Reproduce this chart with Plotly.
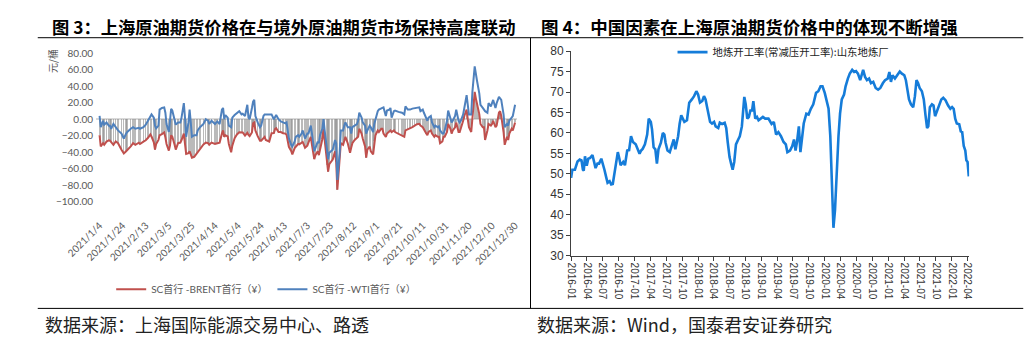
import pandas as pd
import plotly.graph_objects as go

# ---------------- Figure 3 data (daily, 2021) ----------------
dates_2021 = [
    "2021-01-04", "2021-01-05", "2021-01-07", "2021-01-08", "2021-01-10", "2021-01-12", "2021-01-13", "2021-01-14", "2021-01-16", "2021-01-18",
    "2021-01-20", "2021-01-23", "2021-01-25", "2021-01-27", "2021-01-28", "2021-01-31", "2021-02-02", "2021-02-04", "2021-02-07", "2021-02-08",
    "2021-02-11", "2021-02-13", "2021-02-15", "2021-02-17", "2021-02-18", "2021-02-20", "2021-02-21", "2021-02-22", "2021-02-24", "2021-02-25",
    "2021-02-27", "2021-03-01", "2021-03-02", "2021-03-03", "2021-03-05", "2021-03-06", "2021-03-07", "2021-03-08", "2021-03-10", "2021-03-11",
    "2021-03-13", "2021-03-15", "2021-03-16", "2021-03-18", "2021-03-19", "2021-03-20", "2021-03-22", "2021-03-23", "2021-03-24", "2021-03-25",
    "2021-03-27", "2021-03-29", "2021-03-30", "2021-04-01", "2021-04-04", "2021-04-06", "2021-04-08", "2021-04-09", "2021-04-11", "2021-04-14",
    "2021-04-16", "2021-04-18", "2021-04-20", "2021-04-21", "2021-04-22", "2021-04-23", "2021-04-25", "2021-04-26", "2021-04-28", "2021-04-29",
    "2021-05-01", "2021-05-03", "2021-05-05", "2021-05-07", "2021-05-08", "2021-05-10", "2021-05-12", "2021-05-13", "2021-05-14", "2021-05-16",
    "2021-05-17", "2021-05-18", "2021-05-19", "2021-05-21", "2021-05-23", "2021-05-24", "2021-05-26", "2021-05-27", "2021-05-28", "2021-05-31",
    "2021-06-02", "2021-06-04", "2021-06-05", "2021-06-06", "2021-06-08", "2021-06-10", "2021-06-12", "2021-06-14", "2021-06-15", "2021-06-16",
    "2021-06-17", "2021-06-19", "2021-06-20", "2021-06-22", "2021-06-23", "2021-06-25", "2021-06-26", "2021-06-28", "2021-06-29", "2021-07-01",
    "2021-07-03", "2021-07-04", "2021-07-06", "2021-07-07", "2021-07-09", "2021-07-10", "2021-07-12", "2021-07-13", "2021-07-14", "2021-07-16",
    "2021-07-17", "2021-07-18", "2021-07-20", "2021-07-21", "2021-07-22", "2021-07-24", "2021-07-25", "2021-07-27", "2021-07-28", "2021-07-29",
    "2021-07-31", "2021-08-01", "2021-08-03", "2021-08-04", "2021-08-05", "2021-08-07", "2021-08-09", "2021-08-10", "2021-08-11", "2021-08-13",
    "2021-08-15", "2021-08-16", "2021-08-17", "2021-08-19", "2021-08-20", "2021-08-22", "2021-08-23", "2021-08-24", "2021-08-26", "2021-08-27",
    "2021-08-29", "2021-08-30", "2021-08-31", "2021-09-02", "2021-09-03", "2021-09-05", "2021-09-06", "2021-09-07", "2021-09-09", "2021-09-10",
    "2021-09-12", "2021-09-13", "2021-09-14", "2021-09-16", "2021-09-17", "2021-09-20", "2021-09-23", "2021-09-25", "2021-09-26", "2021-09-28",
    "2021-09-30", "2021-10-02", "2021-10-04", "2021-10-06", "2021-10-08", "2021-10-09", "2021-10-11", "2021-10-12", "2021-10-14", "2021-10-15",
    "2021-10-16", "2021-10-18", "2021-10-19", "2021-10-21", "2021-10-22", "2021-10-24", "2021-10-25", "2021-10-26", "2021-10-28", "2021-10-29",
    "2021-10-30", "2021-11-01", "2021-11-02", "2021-11-04", "2021-11-05", "2021-11-06", "2021-11-08", "2021-11-09", "2021-11-11", "2021-11-12",
    "2021-11-13", "2021-11-15", "2021-11-16", "2021-11-18", "2021-11-19", "2021-11-20", "2021-11-22", "2021-11-23", "2021-11-25", "2021-11-26",
    "2021-11-27", "2021-11-29", "2021-11-30", "2021-12-02", "2021-12-03", "2021-12-04", "2021-12-06", "2021-12-07", "2021-12-09", "2021-12-10",
    "2021-12-11", "2021-12-13", "2021-12-14", "2021-12-16", "2021-12-17", "2021-12-18", "2021-12-20", "2021-12-21", "2021-12-23", "2021-12-24",
    "2021-12-25", "2021-12-27", "2021-12-28", "2021-12-30",
]

sc_brent = [
    -19.4, -33, -29, -31, -27.1, -25.5, -26, -28, -31, -27,
    -29, -37, -41.5, -38.8, -37.5, -33, -29, -31, -28.5, -30,
    -27.1, -25.5, -22.5, -18.5, -21, -28, -36.8, -30, -25, -19.4,
    -18, -16, -22, -30, -38, -32, -19.4, -21.3, -31, -36.8,
    -29, -28.3, -25.2, -17.4, -30, -42, -41, -38.8, -42.6, -46.5,
    -45.5, -42, -39, -35.5, -30.5, -28.3, -29, -31, -28.3, -29.8,
    -29, -28.3, -17.5, -13.6, -21.3, -19.4, -20.8, -30, -40, -32,
    -23, -18.5, -15.8, -16.5, -16, -19.8, -16.5, -19, -20.5, -16,
    -5, -4, -13.6, -20.5, -26, -26, -22, -21.3, -25.2, -27,
    -17, -16.7, -12, -11, -15.5, -15.5, -17, -17.4, -19, -29,
    -33.5, -38.5, -42.6, -34.9, -33, -30, -30.5, -28, -27.5, -34.5,
    -32, -28, -21.3, -31, -48.4, -43.5, -38.8, -43.5, -37, -24,
    -12, -25, -55, -63.5, -54.5, -50.8, -48.8, -38.8, -52.3, -85.3,
    -52.3, -29, -31, -25.2, -21.3, -29, -40.7, -34.5, -29, -25.2,
    -23.3, -21.3, -11.6, -17.4, -23.3, -33, -46.5, -36.8, -33, -38.8,
    -42.6, -27, -19.4, -13.6, -15.5, -11.6, -11.6, -17.4, -21.3, -17.4,
    -15.5, -13.6, -15.5, -13.6, -15.5, -17.4, -19.4, -21.3, -13.6, -12.5,
    -11, -9.5, -7.8, -6, -5.5, -7.8, -9.7, -12.8, -17.4, -19.4,
    -15.5, -13.6, -17.4, -21.3, -19.4, -21.3, -21.3, -29, -27, -21.3,
    -21.3, -15.5, -5.8, -11.6, -17.4, -13.6, -9.7, -3.9, -15.5, -15.5,
    -9.7, -1.9, 3.9, 11.6, 0, -9.7, -15.5, 1.9, 33, 25.2,
    19.4, 5.8, -5.8, -9.7, -9.7, -25.2, -13.6, -5.8, -7.8, -5.8,
    -1.9, -9.7, -7.8, 7.8, 9.7, 3.9, -15.5, -31, -21.3, -25.2,
    -17.4, -11.6, -13.6, -3.9,
]

sc_wti = [
    3.9, -9.7, -2, -6.6, -3.9, -7.8, -7.8, -11.6, -5.8, -9.7,
    -13.6, -17.4, -23.3, -17.4, -15.5, -11.6, -9.7, -11.6, -10.5, -11.6,
    -9.7, -6.6, -1.9, 3.9, 5.8, 1.9, -7.8, -11, -7.8, 11.6,
    13.6, 14.3, 7.8, -5.8, -15.5, -1.9, 12.4, 10.5, 0, -6.6,
    -3.9, -3.9, 1.9, 19.4, 1.9, -21.3, -3.9, 11.6, -3.9, -21.3,
    -19.4, -19.4, -13.6, -9.7, -5.8, 0, -1.9, -5.8, -1.9, -5.8,
    -2.7, -5.8, 11.6, 13.6, 0, 5, 1.9, -7.8, -9.7, 1.9,
    5, 7.8, 9.7, 5.8, 6.6, 3.9, 17.4, 1.9, 0, 13.6,
    21.3, 23.3, 3.9, -3.9, -9.7, -7.8, 3.9, 5.8, 5.8, 5.8,
    5.8, 0, 1.9, 5, 0, -2.7, -3.9, -5, -3.9, -17.4,
    -23.3, -31, -33, -27, -21.3, -19.4, -21.3, -17.4, -13.6, -23.3,
    -17.4, -17.4, -7.8, -17.4, -38.8, -35, -27.1, -29, -19.4, -11.6,
    0, -13.6, -33, -48.4, -40.7, -38.8, -36.8, -25.2, -29, -73.6,
    -40.7, -13.6, -13.6, -7.8, -3.9, -9.7, -9.7, -17.4, -9.7, -7.8,
    -5.8, -1.9, 7.8, 1.9, -3.9, -7.8, -17.4, -13.6, -7.8, -9.7,
    -15.5, -5.8, 0, 9.7, 11.6, 13.6, 13.6, 14.3, 3.9, 10.5,
    11.6, 13.6, 1.9, 9.7, 10.5, 8.9, 7.8, 5.8, 15.5, 11.6,
    11.6, 12.8, 13.6, 13.6, 14.3, 9.7, 11.6, 7.8, 1.9, -1.9,
    1.9, 3.9, -3.9, -9.7, -7.8, -9.7, -8.5, -13.6, -17.4, -17.4,
    -13.6, -1.9, 10.5, 1.9, -3.9, -1.9, 3.9, 11.6, -1.9, -3.9,
    -1.9, 5.8, 13.6, 29, 17.4, 5.8, 5.8, 33, 64, 54,
    46.5, 31, 17.4, 13.6, 11.6, 9.7, 7.8, 19.4, 15.5, 19.4,
    23.3, 13.6, 19.4, 27.1, 25.2, 23.3, 5.8, -9.7, -5.8, -7.8,
    -1.9, 1.9, 3.9, 17.4,
]

fig3_tick_labels = [
    "2021/1/4", "2021/1/24", "2021/2/13", "2021/3/5", "2021/3/25", "2021/4/14", "2021/5/4",
    "2021/5/24", "2021/6/13", "2021/7/3", "2021/7/23", "2021/8/12", "2021/9/1", "2021/9/21",
    "2021/10/11", "2021/10/31", "2021/11/20", "2021/12/10", "2021/12/30",
]
fig3_y_ticks = [-100, -80, -60, -40, -20, 0, 20, 40, 60, 80]

# ---------------- Figure 4 data (weekly, 2016-2022) ----------------
weeks = [
    "2016-01-01", "2016-01-08", "2016-01-23", "2016-02-07", "2016-02-20", "2016-03-01", "2016-03-09", "2016-03-14", "2016-03-21", "2016-03-31",
    "2016-04-09", "2016-04-20", "2016-05-03", "2016-05-12", "2016-05-21", "2016-06-01", "2016-06-10", "2016-06-23", "2016-07-02", "2016-07-11",
    "2016-07-22", "2016-07-29", "2016-08-10", "2016-08-19", "2016-08-28", "2016-09-11", "2016-09-26", "2016-10-05", "2016-10-12", "2016-10-27",
    "2016-11-06", "2016-11-19", "2016-11-30", "2016-12-11", "2016-12-22", "2017-01-07", "2017-01-19", "2017-01-29", "2017-02-07", "2017-02-16",
    "2017-03-01", "2017-03-14", "2017-03-23", "2017-04-04", "2017-04-11", "2017-04-20", "2017-04-30", "2017-05-09", "2017-05-18", "2017-06-01",
    "2017-06-12", "2017-06-21", "2017-06-28", "2017-07-09", "2017-07-22", "2017-08-01", "2017-08-14", "2017-08-23", "2017-09-08", "2017-09-17",
    "2017-09-26", "2017-10-05", "2017-10-14", "2017-10-29", "2017-11-11", "2017-11-26", "2017-12-09", "2017-12-22", "2018-01-01", "2018-01-12",
    "2018-01-25", "2018-02-04", "2018-02-13", "2018-02-22", "2018-03-02", "2018-03-11", "2018-03-22", "2018-04-03", "2018-04-12", "2018-04-27",
    "2018-05-06", "2018-05-19", "2018-06-03", "2018-06-12", "2018-06-21", "2018-07-01", "2018-07-10", "2018-07-19", "2018-07-28", "2018-08-07",
    "2018-08-20", "2018-08-29", "2018-09-10", "2018-09-17", "2018-09-24", "2018-10-02", "2018-10-11", "2018-10-20", "2018-10-29", "2018-11-08",
    "2018-11-15", "2018-11-26", "2018-12-06", "2018-12-15", "2018-12-28", "2019-01-09", "2019-01-22", "2019-02-10", "2019-02-28", "2019-03-13",
    "2019-03-26", "2019-04-08", "2019-04-23", "2019-05-08", "2019-05-21", "2019-05-30", "2019-06-14", "2019-06-27", "2019-07-07", "2019-07-16",
    "2019-07-25", "2019-08-04", "2019-08-13", "2019-08-22", "2019-09-01", "2019-09-16", "2019-09-29", "2019-10-12", "2019-10-26", "2019-11-11",
    "2019-11-24", "2019-12-07", "2019-12-18", "2019-12-31", "2020-01-13", "2020-01-22", "2020-02-01", "2020-02-10", "2020-02-19", "2020-02-28",
    "2020-03-08", "2020-03-19", "2020-03-28", "2020-04-07", "2020-04-20", "2020-04-29", "2020-05-12", "2020-05-23", "2020-06-06", "2020-06-17",
    "2020-06-28", "2020-07-09", "2020-07-22", "2020-08-01", "2020-08-08", "2020-08-19", "2020-08-30", "2020-09-11", "2020-09-22", "2020-10-05",
    "2020-10-19", "2020-11-02", "2020-11-15", "2020-11-30", "2020-12-12", "2020-12-27", "2021-01-06", "2021-01-15", "2021-01-24", "2021-02-07",
    "2021-02-18", "2021-03-07", "2021-03-19", "2021-04-02", "2021-04-11", "2021-04-20", "2021-04-29", "2021-05-10", "2021-05-23", "2021-06-02",
    "2021-06-11", "2021-06-20", "2021-06-29", "2021-07-12", "2021-07-23", "2021-08-02", "2021-08-11", "2021-08-18", "2021-08-27", "2021-09-08",
    "2021-09-17", "2021-09-26", "2021-10-06", "2021-10-19", "2021-11-01", "2021-11-12", "2021-11-25", "2021-12-10", "2021-12-23", "2022-01-02",
    "2022-01-11", "2022-01-20", "2022-01-29", "2022-02-12", "2022-02-21", "2022-03-01", "2022-03-10", "2022-03-19", "2022-03-25", "2022-04-01",
    "2022-04-08",
]

shandong_rate = [
    49.0, 51.0, 51.0, 53.0, 53.5, 53.3, 51.0, 50.8, 54.3, 52.0,
    53.7, 53.9, 54.6, 53.0, 51.4, 52.5, 52.5, 53.7, 52.5, 51.0,
    49.0, 47.8, 48.2, 47.4, 47.5, 51.4, 55.3, 53.7, 52.1, 52.9,
    52.1, 55.7, 55.8, 59.2, 57.8, 57.2, 55.7, 54.9, 55.7, 56.1,
    57.2, 59.6, 63.5, 62.7, 60.8, 56.5, 56.0, 52.5, 56.0, 57.6,
    60.0, 59.6, 57.6, 55.7, 55.3, 56.8, 58.4, 56.0, 59.2, 62.3,
    64.3, 63.5, 62.7, 63.1, 67.4, 68.2, 69.0, 70.2, 69.4, 67.4,
    67.8, 69.0, 68.2, 66.3, 64.3, 62.7, 62.3, 62.7, 61.6, 61.2,
    62.5, 62.2, 62.5, 61.2, 57.6, 54.1, 52.5, 51.0, 52.9, 57.2,
    58.4, 59.2, 61.6, 65.9, 68.8, 67.0, 63.5, 63.9, 65.5, 65.5,
    67.8, 63.5, 63.9, 63.1, 63.5, 63.9, 63.5, 63.5, 62.2, 62.7,
    59.6, 60.2, 59.2, 57.8, 57.2, 55.3, 55.7, 56.8, 58.4, 55.7,
    58.0, 61.6, 55.3, 59.2, 62.3, 64.7, 64.5, 65.9, 67.0, 69.8,
    70.2, 71.4, 71.4, 69.8, 67.4, 65.9, 59.2, 47.4, 36.8, 41.1,
    49.8, 59.2, 64.7, 68.2, 69.4, 71.4, 73.3, 74.5, 75.4, 74.9,
    75.1, 74.5, 72.9, 74.5, 75.4, 73.7, 72.9, 73.3, 72.2, 72.5,
    71.0, 70.6, 71.0, 72.2, 72.9, 73.3, 74.9, 72.5, 74.1, 73.3,
    74.1, 75.0, 74.5, 74.1, 72.9, 70.2, 68.2, 67.0, 66.3, 69.0,
    72.9, 72.2, 71.0, 70.2, 68.2, 64.3, 61.2, 61.6, 66.3, 67.0,
    66.7, 64.1, 65.2, 66.3, 68.2, 68.6, 68.0, 66.7, 65.9, 66.3,
    65.9, 63.5, 62.3, 62.1, 60.4, 60.2, 56.8, 55.7, 53.3, 52.9,
    49.4,
]

fig4_tick_labels = [
    "2016-01", "2016-04", "2016-07", "2016-10", "2017-01", "2017-04", "2017-07", "2017-10",
    "2018-01", "2018-04", "2018-07", "2018-10", "2019-01", "2019-04", "2019-07", "2019-10",
    "2020-01", "2020-04", "2020-07", "2020-10", "2021-01", "2021-04", "2021-07", "2021-10",
    "2022-01", "2022-04",
]
fig4_y_ticks = [30, 35, 40, 45, 50, 55, 60, 65, 70, 75, 80]

# ---------------- Build figure ----------------
W, H = 1034, 349
def px(x):
    return x / W
def py(y):
    return (H - y) / H

fig3_tickvals = [pd.to_datetime(t, format="%Y/%m/%d") for t in fig3_tick_labels]
fig4_tickvals = [pd.to_datetime(t + "-01") for t in fig4_tick_labels]

CJK = "Noto Sans CJK SC"
LAT = "Lato, Noto Sans CJK SC"
ARIAL = "Liberation Sans, Arial"

fig = go.Figure()

fig.add_trace(go.Bar(
    x=dates_2021, y=sc_brent, width=86400000 * 1.3,
    marker=dict(color="rgba(140,140,140,0.6)", line=dict(width=0)),
    showlegend=False, hoverinfo="skip", xaxis="x", yaxis="y",
))
fig.add_trace(go.Scatter(
    x=dates_2021, y=sc_brent, mode="lines", name="SC首行 -BRENT首行（¥）",
    line=dict(color="#C0504D", width=2), xaxis="x", yaxis="y", legend="legend",
))
fig.add_trace(go.Scatter(
    x=dates_2021, y=sc_wti, mode="lines", name="SC首行 -WTI首行（¥）",
    line=dict(color="#4F81BD", width=2), xaxis="x", yaxis="y", legend="legend",
))
fig.add_trace(go.Scatter(
    x=weeks, y=shandong_rate, mode="lines", name="地炼开工率(常减压开工率):山东地炼厂",
    line=dict(color="#157CD9", width=2.6), xaxis="x2", yaxis="y2", legend="legend2",
))

fig.update_layout(
    width=W, height=H,
    margin=dict(l=0, r=0, t=0, b=0),
    paper_bgcolor="white", plot_bgcolor="white",
    bargap=0,
    xaxis=dict(
        domain=[px(67.4), px(503.4)], anchor="y", type="date",
        range=["2021-01-01", "2021-12-31 23:00"],
        tickmode="array", tickvals=fig3_tickvals, ticktext=fig3_tick_labels,
        tickangle=-45, tickfont=dict(family=LAT, size=10, color="#595959"),
        showgrid=False, showline=False, zeroline=False, ticks="",
        ticklabelstandoff=15,
    ),
    yaxis=dict(
        domain=[py(203), py(48)], anchor="x", range=[-100, 80],
        tickmode="array", tickvals=fig3_y_ticks, tickformat=".2f",
        tickfont=dict(family=LAT, size=10, color="#595959"),
        showgrid=False, showline=False, ticks="",
        zeroline=True, zerolinecolor="#D9D9D9", zerolinewidth=1.5,
        ticklabelstandoff=2,
    ),
    xaxis2=dict(
        domain=[px(559), px(971)], anchor="y2", type="date",
        range=["2016-01-01", "2022-04-10"],
        tickmode="array", tickvals=fig4_tickvals, ticktext=fig4_tick_labels,
        tickangle=90, tickfont=dict(family=ARIAL, size=10, color="#333333"),
        showgrid=False, zeroline=False,
        showline=True, linecolor="#404040", linewidth=1,
        ticks="outside", ticklen=4, tickcolor="#404040",
    ),
    yaxis2=dict(
        domain=[py(259), py(46)], anchor="x2", range=[30, 80],
        tickmode="array", tickvals=fig4_y_ticks,
        tickfont=dict(family=ARIAL, size=12, color="#333333"),
        showgrid=False, zeroline=False,
        showline=True, linecolor="#404040", linewidth=1,
        ticks="outside", ticklen=4, tickcolor="#404040",
    ),
    legend=dict(
        orientation="h", x=px(83), y=py(294), xanchor="left", yanchor="middle",
        font=dict(family=LAT, size=10, color="#595959"),
        bgcolor="rgba(0,0,0,0)", itemwidth=30,
    ),
    legend2=dict(
        orientation="h", x=px(664), y=py(47), xanchor="left", yanchor="middle",
        font=dict(family=CJK, size=10.4, color="#222222"),
        bgcolor="rgba(0,0,0,0)", itemwidth=30,
    ),
    annotations=[
        dict(text="图 3：上海原油期货价格在与境外原油期货市场保持高度联动", x=px(261), y=py(20),
             xref="paper", yref="paper", xanchor="center", yanchor="middle", showarrow=False,
             font=dict(family=CJK, size=17.3, color="#000000", weight="bold")),
        dict(text="图 4：中国因素在上海原油期货价格中的体现不断增强", x=px(744), y=py(20),
             xref="paper", yref="paper", xanchor="center", yanchor="middle", showarrow=False,
             font=dict(family=CJK, size=17.5, color="#000000", weight="bold")),
        dict(text="元/桶", x=px(22), y=py(56), xref="paper", yref="paper",
             xanchor="center", yanchor="middle", textangle=-90, showarrow=False,
             font=dict(family=CJK, size=10, color="#595959")),
        dict(text="数据来源：上海国际能源交易中心、路透", x=px(182), y=py(330),
             xref="paper", yref="paper", xanchor="center", yanchor="middle", showarrow=False,
             font=dict(family=CJK, size=18, color="#222222")),
        dict(text="数据来源：Wind，国泰君安证券研究", x=px(676), y=py(330),
             xref="paper", yref="paper", xanchor="center", yanchor="middle", showarrow=False,
             font=dict(family=CJK, size=18, color="#222222")),
    ],
    shapes=[
        dict(type="line", xref="paper", yref="paper", x0=px(7), x1=px(1027), y0=py(32), y1=py(32),
             line=dict(color="#000000", width=1)),
        dict(type="line", xref="paper", yref="paper", x0=px(517), x1=px(517), y0=py(32), y1=py(314),
             line=dict(color="#000000", width=1)),
        dict(type="line", xref="paper", yref="paper", x0=px(7), x1=px(1027), y0=py(314), y1=py(314),
             line=dict(color="#000000", width=1)),
    ],
)

fig.write_html("out.html")
